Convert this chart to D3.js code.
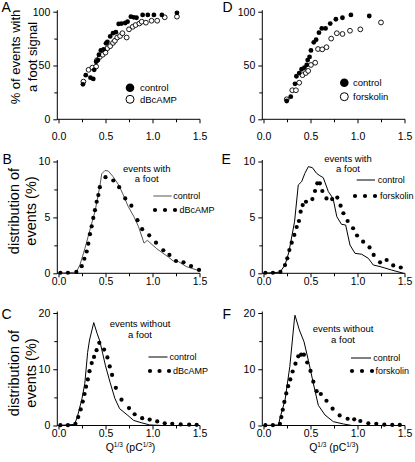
<!DOCTYPE html>
<html><head><meta charset="utf-8">
<script src="https://cdn.jsdelivr.net/npm/d3@7"></script>
<style>
body{margin:0;background:#fff}
svg{display:block}
text{font-family:"Liberation Sans",Arial,Helvetica,sans-serif;fill:#000}
</style>
</head><body>
<svg id="c" width="415" height="462"></svg>
<script>
// ---------- DATA ----------
const xTickValues = [0, 0.25, 0.5, 0.75, 1, 1.25, 1.5];
const xTickLabels = ["0.0", "", "0.5", "", "1.0", "", "1.5"];
const pctTickValues = [0, 25, 50, 75, 100];
const pctTickLabels = ["0", "", "50", "", "100"];
const distFootTickValues = [0, 2.5, 5, 7.5, 10];
const distFootTickLabels = ["0", "", "5", "", "10"];
const distNoFootTickValues = [0, 5, 10, 15, 20];
const distNoFootTickLabels = ["0", "", "10", "", "20"];

// Panel A: % of events with a foot signal
const aControlQ = [0.26,0.29,0.34,0.37,0.38,0.40,0.42,0.43,0.45,0.48,0.505,0.52,0.55,0.58,0.61,0.64,0.67,0.71,0.735,0.77,0.80,0.83,0.895,0.95,1.015,1.10,1.26];
const aControlPct = [32.5,41,38.7,37.5,46,53.5,55,60,64,65,70.6,72,77,80,81,88.6,89,89.5,90.7,95.4,94.8,94.4,97,97,97,97,99];
const aDbcampQ = [0.265,0.32,0.36,0.40,0.41,0.44,0.47,0.50,0.52,0.55,0.58,0.60,0.625,0.655,0.68,0.725,0.75,0.79,0.82,0.86,0.885,0.93,0.99,1.05,1.13,1.26];
const aDbcampPct = [35,46,48,49,55,58,60,62,66,68,71,73,76,77.4,80,76,83.6,86,87.6,89,90.7,89.8,91.6,91.6,94.8,95.4];

// Panel D
const dControlQ = [0.247,0.29,0.335,0.35,0.38,0.405,0.435,0.46,0.47,0.49,0.505,0.535,0.56,0.59,0.62,0.66,0.71,0.77,0.84,0.93,1.125];
const dControlPct = [17,21,33,40,43,46.5,48,50.5,55,58,64,71.5,74,80.5,84.5,84.5,89,93,94.4,97,96];
const dForskolinQ = [0.247,0.306,0.345,0.38,0.415,0.45,0.475,0.505,0.55,0.58,0.625,0.67,0.72,0.78,0.84,0.92,1.03,1.25];
const dForskolinPct = [18.6,27,27,34,41,43,45,50.5,52.6,65.3,65,67,75,80,79.3,82.3,83.6,90];

// Panel B: events with a foot
const bControlQ = [0,0.19,0.23,0.28,0.335,0.39,0.44,0.46,0.495,0.53,0.58,0.64,0.69,0.74,0.80,0.85,0.91,0.945,1.045,1.17,1.22,1.275,1.36,1.49];
const bControlPct = [0,0.1,0.8,2.2,3.9,5.6,7.8,8.9,9.2,9.15,8.65,7.9,7.0,6.0,5.1,4.2,2.7,2.95,2.2,1.45,1.1,1.05,0.6,0.25];
const bDbcampQ = [0.02,0.10,0.19,0.247,0.275,0.30,0.317,0.335,0.353,0.37,0.388,0.406,0.424,0.44,0.50,0.583,0.645,0.71,0.775,0.84,0.89,0.965,1.037,1.115,1.18,1.25,1.33,1.41,1.495];
const bDbcampPct = [0.05,0.05,0.12,0.64,1.3,1.95,2.65,3.5,4.2,4.95,5.65,6.4,7.0,7.7,8.6,8.3,7.7,6.7,6.05,4.75,3.95,3.4,2.74,2.06,1.64,1.1,0.98,0.65,0.3];

// Panel E
const eControlQ = [0,0.175,0.229,0.27,0.33,0.37,0.406,0.44,0.477,0.52,0.565,0.60,0.636,0.69,0.74,0.78,0.83,0.874,0.92,0.973,1.045,1.115,1.168,1.24,1.36,1.49];
const eControlPct = [0,0.1,0.74,1.9,4.6,7.9,8.2,8.94,9.54,9.45,8.94,8.73,8.55,7.3,6.7,5.06,4.38,4.32,2.53,1.79,1.7,1.34,0.74,0.6,0.3,0];
const eForskolinQ = [0.02,0.10,0.18,0.229,0.253,0.275,0.30,0.328,0.353,0.377,0.395,0.417,0.452,0.52,0.548,0.572,0.60,0.626,0.67,0.73,0.785,0.82,0.85,0.895,0.953,0.995,1.06,1.128,1.172,1.24,1.31,1.38,1.46];
const eForskolinPct = [0.05,0.05,0.12,0.74,1.34,2.08,2.74,3.43,4.14,4.68,5.51,6.1,6.4,6.64,7.36,8.05,8.05,7.36,6.7,6.64,6.77,6.05,5.37,4.68,4.03,3.38,2.83,2.31,1.64,0.98,1.19,0.7,0.52];

// Panel C: events without a foot
const cControlQ = [0,0.17,0.20,0.25,0.28,0.31,0.33,0.375,0.41,0.44,0.47,0.50,0.55,0.60,0.65,0.73,0.80,0.88,0.97,1.1,1.5];
const cControlPct = [0,0.2,1.5,4.8,7.5,13.0,15.2,18.3,16.4,15.0,12.8,10.6,7.6,4.8,3.0,1.9,0.9,0.5,0.1,0,0];
const cDbcampQ = [0.02,0.10,0.18,0.21,0.236,0.258,0.277,0.293,0.312,0.33,0.353,0.378,0.405,0.434,0.485,0.52,0.545,0.57,0.61,0.67,0.75,0.81,0.89,0.97,1.05,1.13,1.21,1.30,1.39,1.47];
const cDbcampPct = [0.05,0.05,0.3,1.5,2.85,4.25,5.6,6.9,8.2,9.65,11.1,12.2,13.4,14.7,13.5,12.1,10.5,9.0,6.7,4.6,3.1,2.0,1.3,1.05,0.72,0.4,0.3,0.2,0.15,0.12];

// Panel F
const fControlQ = [0,0.16,0.175,0.229,0.28,0.328,0.335,0.381,0.431,0.477,0.53,0.583,0.654,0.743,0.85,0.94,1.5];
const fControlPct = [0,0.1,1.3,4.5,10.5,18.75,19.6,17,14.9,11.6,7.5,3.6,1.87,0.68,0.27,0,0];
const fForskolinQ = [0.02,0.10,0.175,0.19,0.205,0.222,0.242,0.262,0.285,0.31,0.34,0.37,0.40,0.43,0.465,0.50,0.53,0.565,0.61,0.67,0.735,0.81,0.895,0.965,1.03,1.115,1.20,1.285,1.37,1.45];
const fForskolinPct = [0.05,0.05,0.3,1.5,2.8,4.2,5.7,7.0,8.2,9.6,11.0,12.3,12.6,12.6,11.2,9.7,7.8,6.1,5.6,4.4,3.0,1.8,1.2,1.1,0.8,0.4,0.3,0.15,0.1,0.1];

// ---------- DRAWING ----------
const svg = d3.select("#c");
const FONT_TICK = 10.5;
const FONT_LEG = 9;
const FONT_ANN = 9.5;

function zip(xs, ys){ return xs.map((v,i)=>[v, ys[i]]); }

function panel(o){
  const x = d3.scaleLinear().domain([0,1.5]).range([o.x0, o.x0 + 141]);
  const y = d3.scaleLinear().domain([0,o.ymax]).range([o.yb, o.yt]);
  const g = svg.append("g");
  const axX = o.x0 - 1.2;

  const xa = g.append("g").attr("transform", `translate(0,${o.yb})`)
    .call(d3.axisBottom(x).tickValues(xTickValues).tickSize(4).tickPadding(o.xpad)
      .tickFormat((d,i)=>xTickLabels[i]));
  xa.select(".domain").remove();
  xa.selectAll(".tick line").attr("stroke","#000").attr("stroke-width",1)
    .attr("y2",(d,i)=> xTickLabels[i] ? 4 : 3);
  xa.selectAll(".tick text").attr("font-size",FONT_TICK).attr("font-family",null);
  g.append("line").attr("x1",axX).attr("x2",o.x0+141.5).attr("y1",o.yb).attr("y2",o.yb)
    .attr("stroke","#000").attr("stroke-width",1);

  const ya = g.append("g").attr("transform", `translate(${axX},0)`)
    .call(d3.axisLeft(y).tickValues(o.yTicks).tickSize(4).tickPadding(3)
      .tickFormat((d,i)=>o.yLabels[i]));
  ya.select(".domain").remove();
  ya.selectAll(".tick line").attr("stroke","#000").attr("x2",(d,i)=> o.yLabels[i] ? -4 : -3);
  ya.selectAll(".tick text").attr("font-size",FONT_TICK).attr("font-family",null);
  g.append("line").attr("x1",axX).attr("x2",axX).attr("y1",o.yb+0.5).attr("y2",o.yt-1.5)
    .attr("stroke","#000").attr("stroke-width",1);

  g.append("text").attr("x",o.letterX).attr("y",o.letterY).attr("font-size",14).text(o.letter);
  return {x, y, g};
}

function scatterPanel(o){
  const p = panel(o);
  p.g.append("g").selectAll("circle").data(zip(o.openX,o.openY)).join("circle")
    .attr("cx",d=>p.x(d[0])).attr("cy",d=>p.y(d[1])).attr("r",2.4)
    .attr("fill","#fff").attr("stroke","#000").attr("stroke-width",0.9);
  p.g.append("g").selectAll("circle").data(zip(o.fillX,o.fillY)).join("circle")
    .attr("cx",d=>p.x(d[0])).attr("cy",d=>p.y(d[1])).attr("r",2.4).attr("fill","#000");
  const L = o.legend;
  p.g.append("circle").attr("cx",L.cx).attr("cy",L.y1).attr("r",4.3).attr("fill","#000");
  p.g.append("circle").attr("cx",L.cx).attr("cy",L.y2).attr("r",4).attr("fill","#fff").attr("stroke","#000").attr("stroke-width",1);
  p.g.append("text").attr("x",L.tx).attr("y",L.y1+3.3).attr("font-size",FONT_LEG+0.5).text("control");
  p.g.append("text").attr("x",L.tx).attr("y",L.y2+3.3).attr("font-size",FONT_LEG+0.5).text(o.treat);
}

function distPanel(o){
  const p = panel(o);
  const line = d3.line().x(d=>p.x(d[0])).y(d=>p.y(d[1]));
  p.g.append("path").datum(zip(o.lineX,o.lineY)).attr("d",line)
    .attr("fill","none").attr("stroke",o.lineColor).attr("stroke-width",1);
  p.g.append("g").selectAll("circle").data(zip(o.dotX,o.dotY)).join("circle")
    .attr("cx",d=>p.x(d[0])).attr("cy",d=>p.y(d[1])).attr("r",2.1).attr("fill","#000");
  p.g.append("text").attr("x",o.ann.x).attr("y",o.ann.y1).attr("text-anchor","middle").attr("font-size",FONT_ANN).text(o.ann.t1);
  p.g.append("text").attr("x",o.ann.x).attr("y",o.ann.y2).attr("text-anchor","middle").attr("font-size",FONT_ANN).text("a foot");
  const L = o.legend;
  p.g.append("line").attr("x1",L.lx1).attr("x2",L.lx2).attr("y1",L.y1).attr("y2",L.y1)
    .attr("stroke",o.lineColor).attr("stroke-width",1);
  p.g.append("text").attr("x",L.tx1).attr("y",L.y1+3.3).attr("font-size",FONT_LEG).text("control");
  p.g.selectAll(null).data(L.dots).join("circle").attr("cx",d=>d).attr("cy",L.y2).attr("r",2.1).attr("fill","#000");
  p.g.append("text").attr("x",L.tx2).attr("y",L.y2+3.3).attr("font-size",FONT_LEG).text(o.treat);
  return p;
}

function yTitle(cx, cy, lines, dx, fs){
  lines.forEach((t,i)=>{
    svg.append("text").attr("transform",`translate(${cx + i*dx},${cy}) rotate(-90)`)
      .attr("text-anchor","middle").attr("dominant-baseline","central")
      .attr("font-size",fs).text(t);
  });
}

function xTitle(cx, y){
  const t = svg.append("text").attr("x",cx).attr("y",y).attr("text-anchor","middle").attr("font-size",10.5);
  t.append("tspan").text("Q");
  t.append("tspan").attr("font-size",6.5).attr("dy",-4.5).text("1/3");
  t.append("tspan").attr("dy",4.5).text(" (pC");
  t.append("tspan").attr("font-size",6.5).attr("dy",-4.5).text("1/3");
  t.append("tspan").attr("dy",4.5).text(")");
}

// Row 1
scatterPanel({x0:58.5, yb:119.3, yt:11.7, ymax:100, yTicks:pctTickValues, yLabels:pctTickLabels, xpad:9.5,
  letter:"A", letterX:1.5, letterY:11.5,
  fillX:aControlQ, fillY:aControlPct, openX:aDbcampQ, openY:aDbcampPct, treat:"dBcAMP",
  legend:{cx:130, y1:87.7, y2:99.3, tx:140}});
scatterPanel({x0:263.5, yb:119.3, yt:11.7, ymax:100, yTicks:pctTickValues, yLabels:pctTickLabels, xpad:9.5,
  letter:"D", letterX:222.5, letterY:11.5,
  fillX:dControlQ, fillY:dControlPct, openX:dForskolinQ, openY:dForskolinPct, treat:"forskolin",
  legend:{cx:344.3, y1:82.7, y2:96.7, tx:353}});

// Row 2
distPanel({x0:58.5, yb:273.3, yt:161.5, ymax:10, yTicks:distFootTickValues, yLabels:distFootTickLabels, xpad:0.5,
  letter:"B", letterX:2.5, letterY:163.5, lineColor:"#555",
  lineX:bControlQ, lineY:bControlPct, dotX:bDbcampQ, dotY:bDbcampPct, treat:"dBcAMP",
  ann:{x:146.7, y1:171.5, y2:181.5, t1:"events with"},
  legend:{lx1:153.3, lx2:171.7, y1:196, tx1:173.3, dots:[155,165,175], y2:210, tx2:179.5}});
distPanel({x0:263.5, yb:273.3, yt:161.5, ymax:10, yTicks:distFootTickValues, yLabels:distFootTickLabels, xpad:0.5,
  letter:"E", letterX:221.5, letterY:163.5, lineColor:"#000",
  lineX:eControlQ, lineY:eControlPct, dotX:eForskolinQ, dotY:eForskolinPct, treat:"forskolin",
  ann:{x:348, y1:161.5, y2:171.5, t1:"events with"},
  legend:{lx1:356.7, lx2:375, y1:180, tx1:377.7, dots:[355,365,375], y2:196, tx2:380}});

// Row 3
distPanel({x0:58.5, yb:425.5, yt:313, ymax:20, yTicks:distNoFootTickValues, yLabels:distNoFootTickLabels, xpad:0,
  letter:"C", letterX:1.5, letterY:318.5, lineColor:"#000",
  lineX:cControlQ, lineY:cControlPct, dotX:cDbcampQ, dotY:cDbcampPct, treat:"dBcAMP",
  ann:{x:140, y1:326.5, y2:337.5, t1:"events without"},
  legend:{lx1:148.5, lx2:167.5, y1:357, tx1:169.5, dots:[150,159.5,169], y2:371, tx2:173}});
distPanel({x0:263.5, yb:425.5, yt:313, ymax:20, yTicks:distNoFootTickValues, yLabels:distNoFootTickLabels, xpad:0,
  letter:"F", letterX:222.5, letterY:318.5, lineColor:"#000",
  lineX:fControlQ, lineY:fControlPct, dotX:fForskolinQ, dotY:fForskolinPct, treat:"forskolin",
  ann:{x:343, y1:331.5, y2:342.5, t1:"events without"},
  legend:{lx1:351, lx2:371, y1:358, tx1:373.3, dots:[352,362,372], y2:371, tx2:375.5}});

// Axis titles
yTitle(15, 57, ["% of events with", "a foot signal"], 17, 13);
yTitle(13.5, 211, ["distribution of", "events (%)"], 17.5, 14.5);
yTitle(13.5, 373, ["distribution of", "events (%)"], 17.5, 14.5);
xTitle(130.5, 451);
xTitle(334, 451);
</script>
</body></html>
